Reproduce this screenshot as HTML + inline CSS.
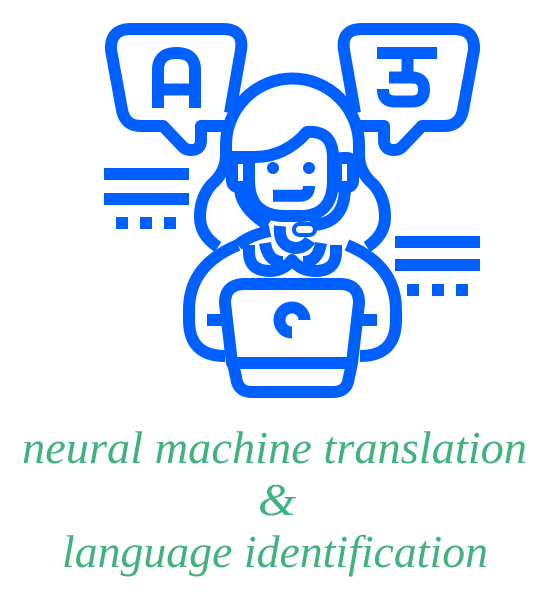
<!DOCTYPE html>
<html><head><meta charset="utf-8"><style>
html,body{margin:0;padding:0;background:#fff;}
svg{display:block;}
</style></head><body>
<svg width="551" height="600" viewBox="0 0 551 600" xmlns="http://www.w3.org/2000/svg">
<g fill="none" stroke="#0060ff" stroke-width="12" stroke-linejoin="round">
  <!-- left bubble -->
  <path d="M226 126 L201 126 L201 140 Q201 150 191 150 Q186 150 183 147 L163 126 L141 126 Q125 126 122 110 L111 50 Q110 29 131 29 L223 29 Q244 29 241 50 L230 113"/>
  <path d="M158 108 L158 70 Q158 53 176.5 53 Q195 53 195 70 L195 108 M158 89.5 L195 89.5" stroke-linejoin="miter"/>
  <!-- right bubble mirrored -->
  <path transform="translate(585,0) scale(-1,1)" d="M226 126 L201 126 L201 140 Q201 150 191 150 Q186 150 183 147 L163 126 L141 126 Q125 126 122 110 L111 50 Q110 29 131 29 L223 29 Q244 29 241 50 L230 113"/>
  <path d="M377 53 L437 53 M407.5 53 L407.5 77.5 M389 77.5 L412 77.5 Q424 77.5 424 89.5 Q424 101.5 412 101.5 L395 101.5 Q383 101.5 383 90 L383 89" stroke-linejoin="miter"/>
  <!-- hair -->
  <path d="M226 160 L226 145 A66.5 66.5 0 0 1 359 145 L359 160"/>
  <path d="M226 155 Q226 172 212 184 Q200 197 200 217 Q200 235 218 247"/>
  <path d="M359 155 Q359 172 373 184 Q385 197 385 217 Q385 235 367 247"/>
  <!-- fringe -->
  <path d="M232 157 L255 157 Q285 157 307 132 Q333 130 333 158"/>
  <!-- face -->
  <path d="M249 157 L249 180 Q249 216 285 216 L300 216 Q333 216 333 180 L333 157"/>
  <rect x="232" y="158" width="17" height="29" rx="6"/>
  <rect x="336" y="158" width="17" height="29" rx="6"/>
  <path d="M240 187 Q240 208 268 225"/>
  <path d="M345 187 Q345 225 310 225"/>
  <rect x="292" y="222" width="25" height="15" rx="7.5" fill="#0060ff" stroke-width="0"/>
  <rect x="296" y="226" width="17" height="7" rx="3.5" fill="#fff" stroke-width="0"/>
  <path d="M280 226 Q278 246 295 248 Q305 248 310 240" />
  <!-- shoulders -->
  <path d="M238 245 Q189 265 189 310 L189 320 Q189 356 225 356"/>
  <path d="M347 245 Q396 265 396 310 L396 320 Q396 356 360 356"/>
  <path d="M270 231 Q250 235 238 245"/>
  <!-- collar -->
  <path d="M249 245 L249 252 Q249 271 270 271 Q283 271 292 260 Q301 271 315 271 Q336 271 336 252 L336 245"/>
  <path d="M265 243 Q268 262 283 262 M321 243 Q318 262 303 262"/>
  <!-- laptop -->
  <path d="M232 363 L225 303 Q225 284 245 284 L340 284 Q359 284 359 303 L352 363 Z"/>
  <path d="M233 363 L237 382 Q240 392 252 392 L333 392 Q345 392 348 382 L352 363"/>
  <path d="M304.5 320 A12.5 12.5 0 1 0 292 332.5" stroke-linejoin="miter"/>
  <path d="M207 320 L226 320 M359 320 L377 320"/>
</g>
<g fill="#0060ff">
  <circle cx="273" cy="168" r="6"/><circle cx="309" cy="168" r="6"/>
  <rect x="104" y="168" width="85" height="12"/><rect x="104" y="193" width="85" height="12"/>
  <rect x="116" y="217" width="12" height="12"/><rect x="140" y="217" width="12" height="12"/><rect x="164" y="217" width="12" height="12"/>
  <rect x="395" y="236" width="85" height="12"/><rect x="395" y="259" width="85" height="12"/>
  <rect x="407" y="284" width="12" height="12"/><rect x="432" y="284" width="12" height="12"/><rect x="456" y="284" width="12" height="12"/>
</g>
<path d="M273 195.7 L300 195.7 Q309 195.7 309 186" fill="none" stroke="#0060ff" stroke-width="12"/>
<g fill="#40b27f" font-family="'Liberation Serif', serif" font-style="italic" font-size="46">
  <text x="22" y="463" textLength="505" lengthAdjust="spacingAndGlyphs">neural machine translation</text>
  <text x="258" y="515" textLength="38" lengthAdjust="spacingAndGlyphs">&amp;</text>
  <text x="62" y="567" textLength="426" lengthAdjust="spacingAndGlyphs">language identification</text>
</g>
</svg>
</body></html>
